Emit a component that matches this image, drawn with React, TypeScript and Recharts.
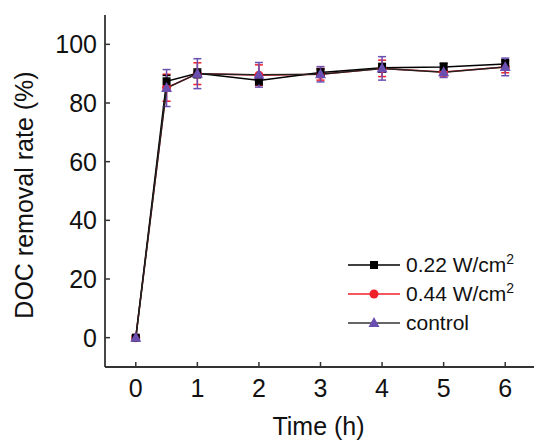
import React from "react";
import { ErrorBar, Legend, Line, LineChart, XAxis, YAxis } from "recharts";

const times = [0, 0.5, 1, 2, 3, 4, 5, 6];
const doc022 = [0, 87.4, 90.1, 87.7, 90.4, 92.0, 92.3, 93.3];
const err022 = [0.6, 2.0, 1.5, 1.5, 1.2, 1.5, 1.3, 1.5];
const doc044 = [0, 85.2, 90.0, 89.5, 89.8, 91.8, 90.6, 92.3];
const err044 = [0.6, 4.6, 3.7, 3.5, 2.0, 2.8, 1.4, 2.0];
const docCtrl = [0, 85.1, 90.0, 89.6, 89.8, 91.8, 90.5, 92.3];
const errCtrl = [0.6, 6.3, 5.1, 4.2, 2.6, 4.0, 1.8, 3.0];
const xTicks = [0, 1, 2, 3, 4, 5, 6];
const yTicks = [0, 20, 40, 60, 80, 100];

const rows = times.map((t, i) => ({
  t,
  a: doc022[i],
  ea: err022[i],
  b: doc044[i],
  eb: err044[i],
  c: docCtrl[i],
  ec: errCtrl[i],
}));

const FONT = "'Liberation Sans', Arial, sans-serif";
const PURPLE = "#6a4fb0";
const RED = "#f0202a";

function Square(props: any) {
  const { cx, cy } = props;
  if (cx == null || cy == null) return null;
  return <rect x={cx - 4} y={cy - 4} width={8} height={8} fill="#000" />;
}

function Triangle(props: any) {
  const { cx, cy } = props;
  if (cx == null || cy == null) return null;
  return (
    <polygon
      points={`${cx},${cy - 6} ${cx - 5.5},${cy + 4} ${cx + 5.5},${cy + 4}`}
      fill={PURPLE}
    />
  );
}

const legendItems = [
  { label: "0.22 W/cm", sup: true, line: "#000", marker: "square" },
  { label: "0.44 W/cm", sup: true, line: RED, marker: "circle" },
  { label: "control", sup: false, line: "#333", marker: "triangle" },
];

function LegendBox() {
  return (
    <div style={{ fontFamily: FONT, fontSize: 21, color: "#111" }}>
      {legendItems.map((it) => (
        <div key={it.label} style={{ display: "flex", alignItems: "center", height: 29 }}>
          <svg width={56} height={20} style={{ marginRight: 4 }}>
            <line x1={2} y1={10} x2={54} y2={10} stroke={it.line} strokeWidth={1.5} />
            {it.marker === "square" && <rect x={24} y={6} width={8} height={8} fill="#000" />}
            {it.marker === "circle" && <circle cx={28} cy={10} r={4.5} fill={RED} />}
            {it.marker === "triangle" && (
              <polygon points="28,4 22.5,14 33.5,14" fill={PURPLE} />
            )}
          </svg>
          <span style={{ whiteSpace: "nowrap" }}>
            {it.label}
            {it.sup && <sup style={{ fontSize: 14, verticalAlign: "8px", lineHeight: 0 }}>2</sup>}
          </span>
        </div>
      ))}
    </div>
  );
}

export default function App() {
  return (
    <div
      style={{
        position: "absolute",
        left: 0,
        top: 0,
        width: 534,
        height: 442,
        overflow: "hidden",
        background: "#fff",
      }}
    >
      <LineChart
        width={545}
        height={442}
        data={rows}
        margin={{ top: 15, right: 9, left: 0, bottom: 0 }}
      >
        <XAxis
          dataKey="t"
          type="number"
          domain={[-0.5, 6.5]}
          ticks={xTicks}
          allowDataOverflow
          height={75}
          tickSize={-5}
          tickMargin={17}
          tick={{ fontSize: 25, fill: "#111", fontFamily: FONT }}
          tickLine={{ stroke: "#333", strokeWidth: 1.5 }}
          axisLine={{ stroke: "#333", strokeWidth: 1.8 }}
          label={{
            content: (p: any) => {
              const vb = p.viewBox;
              return (
                <text
                  x={vb.x + vb.width / 2 - 2}
                  y={435}
                  textAnchor="middle"
                  fontSize={25}
                  fontFamily={FONT}
                  fill="#111"
                >
                  Time (h)
                </text>
              );
            },
          }}
        />
        <XAxis
          xAxisId="top"
          orientation="top"
          dataKey="t"
          type="number"
          domain={[-0.5, 6.5]}
          height={0}
          tick={false}
          tickLine={false}
          axisLine={{ stroke: "#333", strokeWidth: 1.8 }}
        />
        <YAxis
          type="number"
          domain={[-10, 110]}
          ticks={yTicks}
          allowDataOverflow
          width={105}
          tickSize={-5}
          tickMargin={13}
          tick={{ fontSize: 25, fill: "#111", fontFamily: FONT }}
          tickLine={{ stroke: "#333", strokeWidth: 1.5 }}
          axisLine={{ stroke: "#333", strokeWidth: 1.8 }}
          label={{
            content: (p: any) => {
              const vb = p.viewBox;
              const cx = 33;
              const cy = vb.y + vb.height / 2 + 4;
              return (
                <text
                  x={cx}
                  y={cy}
                  transform={`rotate(-90 ${cx} ${cy})`}
                  textAnchor="middle"
                  fontSize={25}
                  fontFamily={FONT}
                  fill="#111"
                >
                  DOC removal rate (%)
                </text>
              );
            },
          }}
        />
        <YAxis
          yAxisId="right"
          orientation="right"
          domain={[-10, 110]}
          width={0}
          tick={false}
          tickLine={false}
          axisLine={{ stroke: "#333", strokeWidth: 1.8 }}
        />
        <Legend
          layout="vertical"
          align="center"
          verticalAlign="middle"
          content={() => <LegendBox />}
          wrapperStyle={{ left: 346, top: 250, width: "auto", bottom: "auto" }}
        />
        <Line
          type="linear"
          dataKey="b"
          name="0.44 W/cm2"
          stroke={RED}
          strokeWidth={1.5}
          dot={{ r: 4.5, fill: RED, stroke: RED, strokeWidth: 0 }}
          isAnimationActive={false}
        >
          <ErrorBar dataKey="eb" width={4} stroke={RED} strokeWidth={1.5} direction="y" />
        </Line>
        <Line
          type="linear"
          dataKey="a"
          name="0.22 W/cm2"
          stroke="#000"
          strokeWidth={1.5}
          dot={<Square />}
          isAnimationActive={false}
        >
          <ErrorBar dataKey="ea" width={4} stroke="#000" strokeWidth={1.5} direction="y" />
        </Line>
        <Line
          type="linear"
          dataKey="c"
          name="control"
          stroke="#222"
          strokeWidth={1.5}
          dot={<Triangle />}
          isAnimationActive={false}
        >
          <ErrorBar dataKey="ec" width={4} stroke={PURPLE} strokeWidth={1.5} direction="y" />
        </Line>
      </LineChart>
    </div>
  );
}
